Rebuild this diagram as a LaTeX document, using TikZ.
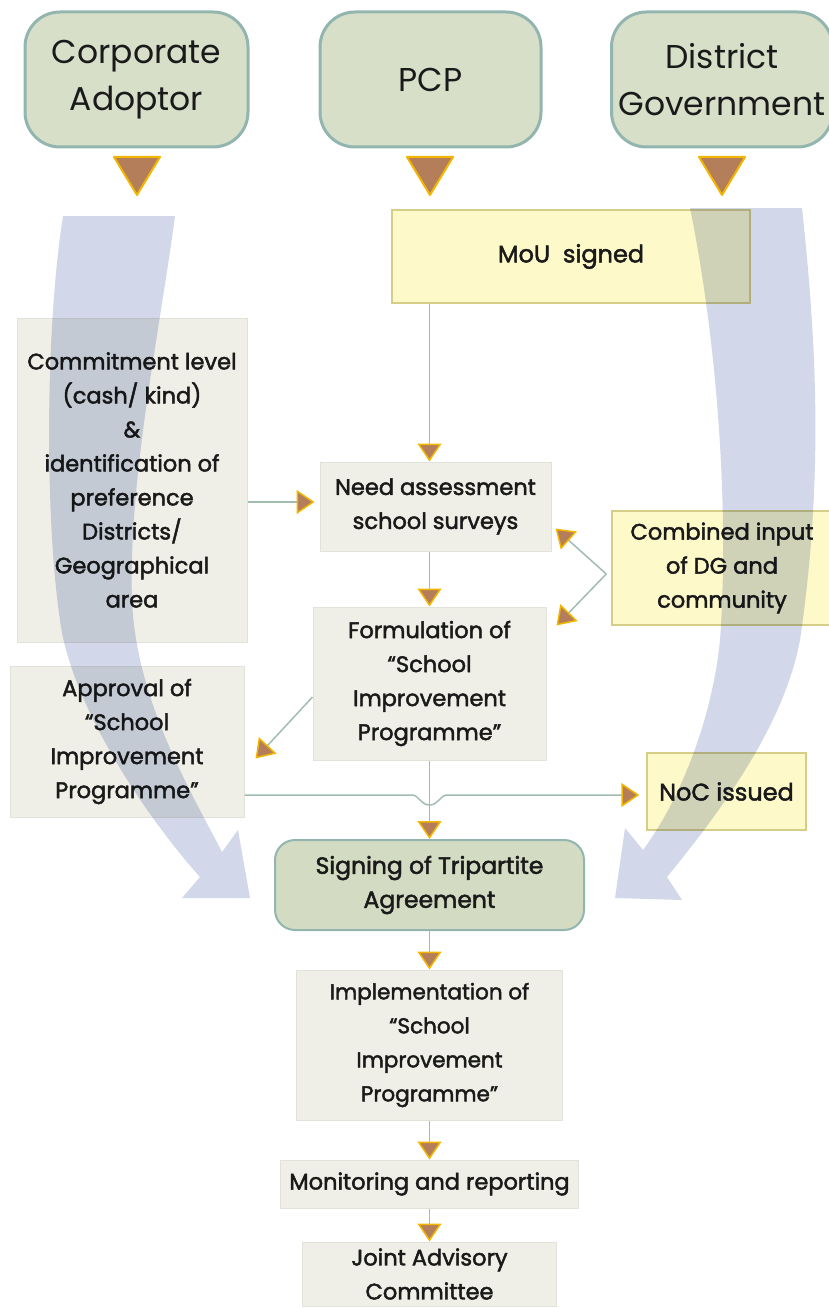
\documentclass[tikz,border=0pt]{standalone}
\usepackage{fontspec}
\setmainfont{Poppins}
\newfontfamily\medfont{Poppins}[FakeBold=2]
\usetikzlibrary{arrows.meta}
\definecolor{topfill}{HTML}{D7DFC9}
\definecolor{topdraw}{HTML}{93B5AF}
\definecolor{signfill}{HTML}{D3DCC2}
\definecolor{greyfill}{HTML}{EFEFE7}
\definecolor{greydraw}{HTML}{E2E2DA}
\definecolor{yelfill}{HTML}{FDF9C9}
\definecolor{yeldraw}{HTML}{D6CE88}
\definecolor{conncol}{HTML}{A0BDB0}
\definecolor{tipfill}{HTML}{B57E5A}
\definecolor{tipdraw}{HTML}{F2B600}
\definecolor{bigarrowcol}{HTML}{D2D8EA}
\definecolor{txt}{HTML}{1A1A1A}
\begin{document}
\begin{tikzpicture}[x=1pt,y=-1pt,
  box/.style={draw, align=center, inner sep=0pt, text=txt},
  topbox/.style={box, fill=topfill, draw=topdraw, line width=3pt, rounded corners=35pt,
    minimum width=221pt, minimum height=135pt, font=\fontsize{33}{47}\selectfont},
  midtext/.style={font=\medfont\fontsize{22.5}{34}\selectfont},
  greybox/.style={box, midtext, fill=greyfill, draw=greydraw, line width=1pt},
  yelbox/.style={box, midtext, fill=yelfill, draw=yeldraw, line width=1.5pt},
  signbox/.style={box, fill=signfill, draw=topdraw, line width=2pt, rounded corners=20pt,
    font=\medfont\fontsize{23.5}{34}\selectfont},
  conn/.style={draw=conncol, line width=1.5pt,
    -{Triangle[length=18pt, width=24pt, fill=tipfill, color=tipdraw, line width=1.5pt]}},
  tri/.style={fill=tipfill, draw=tipdraw, line width=2pt, line join=round},
  bigarrow/.style={fill=bigarrowcol, blend mode=multiply}
]
\useasboundingbox (0,0) rectangle (828,1308);

% top boxes
\node[topbox, minimum width=223pt] (ca) at (136.5,79.5) {Corporate\\Adoptor};
\node[topbox] (pcp) at (430.5,79.5) {PCP};
\node[topbox] (dg) at (722,79.5) {District\\Government};

% top triangles
\draw[tri] (114,157) -- (160,157) -- (137,195) -- cycle;
\draw[tri] (407,157) -- (453,157) -- (430,195) -- cycle;
\draw[tri] (699,157) -- (745,157) -- (722,195) -- cycle;

% boxes
\node[yelbox, minimum width=358pt, minimum height=93pt, font=\medfont\fontsize{24}{34}\selectfont] (mou) at (571,256.5) {MoU\ \ signed};
\node[greybox, minimum width=230pt, minimum height=324pt] (comm) at (132,480)
  {Commitment level\\(cash/ kind)\\\&\\identification of\\preference\\Districts/\\Geographical\\area};
\node[greybox, minimum width=231pt, minimum height=89pt] (need) at (435.5,506.5)
  {Need assessment\\school surveys};
\node[yelbox, minimum width=220pt, minimum height=114pt] (ci) at (722,568)
  {Combined input\\of DG and\\community};
\node[greybox, minimum width=233pt, minimum height=153pt] (form) at (429.5,683.5)
  {Formulation of\\“School\\Improvement\\Programme”};
\node[greybox, minimum width=234pt, minimum height=151pt] (appr) at (127,741.5)
  {Approval of\\“School\\Improvement\\Programme”};
\node[yelbox, minimum width=159pt, minimum height=77pt, font=\medfont\fontsize{24}{34}\selectfont] (noc) at (726.5,791.5) {NoC issued};
\node[signbox, minimum width=309pt, minimum height=90pt] (sign) at (429.5,885)
  {Signing of Tripartite\\Agreement};
\node[greybox, minimum width=266pt, minimum height=150pt, font=\medfont\fontsize{21.5}{34}\selectfont] (impl) at (429.5,1045)
  {Implementation of\\“School\\Improvement\\Programme”};
\node[greybox, minimum width=298pt, minimum height=48pt] (mon) at (429.5,1184)
  {Monitoring and reporting};
\node[greybox, minimum width=254pt, minimum height=64pt] (jac) at (429.5,1274)
  {Joint Advisory\\Committee};

% connectors
\draw[conn] (mou.south -| form.north) -- (need.north -| form.north);
\draw[conn] ([shift={(0,22)}]comm.east) -- ([shift={(-5,-4.5)}]need.west);
\draw[conn] (need.south -| form.north) -- (form.north);
\coordinate (cisplit) at ([shift={(-5,6)}]ci.west);
\draw[conn] (cisplit) -- ([shift={(4,22)}]need.east);
\draw[conn] (cisplit) -- ([shift={(10,19)}]form.north east);
\draw[conn] ([shift={(0,13.5)}]form.west) -- ([shift={(11,17)}]appr.east);
\draw[conn] ([shift={(0,53.5)}]appr.east) -- (413,795)
  .. controls (418,795) and (421,805) .. (429.5,805)
  .. controls (438,805) and (441,795) .. (446,795)
  -- ([shift={(-7,3.5)}]noc.west);
\draw[conn] (form.south) -- (sign.north);
\draw[conn] (sign.south) -- (impl.north);
\draw[conn] (impl.south) -- (mon.north);
\draw[conn] (mon.south) -- (jac.north);

% big translucent arrows
\fill[bigarrow] (63,216) -- (175,216)
  .. controls (160,330) and (128,480) .. (132,600)
  .. controls (136,700) and (190,790) .. (222,852)
  -- (238,830) -- (250,898) -- (182,898) -- (200,877)
  .. controls (140,810) and (70,700) .. (60,620)
  .. controls (45,520) and (45,330) .. (63,216) -- cycle;
\fill[bigarrow] (690,208) -- (802,208)
  .. controls (815,330) and (825,470) .. (800,640)
  .. controls (785,720) and (730,800) .. (667,877)
  -- (682,900) -- (615,898) -- (625,828) -- (643,850)
  .. controls (680,800) and (712,720) .. (720,640)
  .. controls (730,500) and (715,330) .. (690,208) -- cycle;
\end{tikzpicture}
\end{document}
